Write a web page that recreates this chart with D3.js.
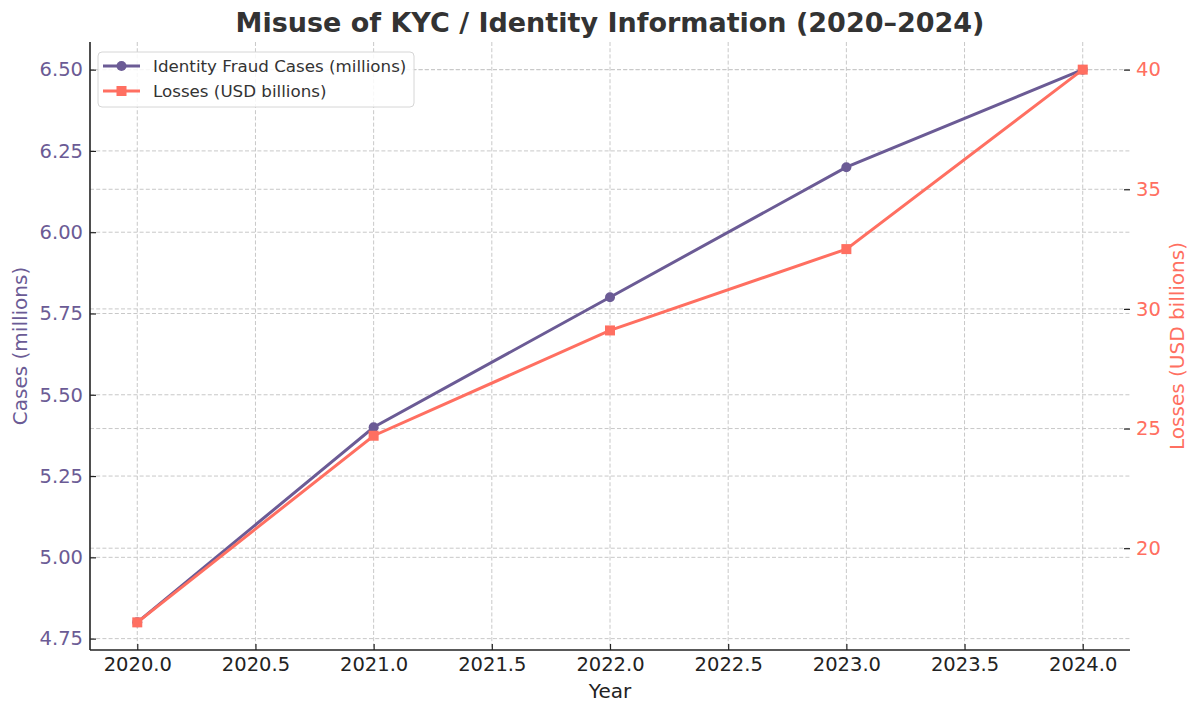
<!DOCTYPE html>
<html><head><meta charset="utf-8">
<script src="https://cdn.jsdelivr.net/npm/d3@7"></script>
<style>body{margin:0;background:#fff}svg{display:block;font-family:"DejaVu Sans",sans-serif}</style>
</head><body>
<svg id="c" width="1200" height="715"></svg>
<script>
const years = [2020, 2021, 2022, 2023, 2024];
const cases = [4.8, 5.4, 5.8, 6.2, 6.5];
const losses = [16.9, 24.7, 29.1, 32.5, 40.0];
const xTicks = [2020, 2020.5, 2021, 2021.5, 2022, 2022.5, 2023, 2023.5, 2024];
const leftTicks = [4.75, 5.00, 5.25, 5.50, 5.75, 6.00, 6.25, 6.50];
const rightTicks = [20, 25, 30, 35, 40];
const purple = "#6B5B95", coral = "#FF6F61";

const svg = d3.select("#c");
const L = 90, R = 1130, T = 42, B = 650;
const pad = (a, b) => { const r = b - a; return [a - r * 0.05, b + r * 0.05]; };
const x = d3.scaleLinear().domain(pad(2020, 2024)).range([L, R]);
const yL = d3.scaleLinear().domain(pad(d3.min(cases), d3.max(cases))).range([B, T]);
const yR = d3.scaleLinear().domain(pad(d3.min(losses), d3.max(losses))).range([B, T]);

const grid = svg.append("g").attr("stroke", "#c8c8c8").attr("stroke-width", 1).attr("stroke-dasharray", "4,2.2");
grid.selectAll(".gx").data(xTicks).join("line").attr("x1", d => x(d)).attr("x2", d => x(d)).attr("y1", T).attr("y2", B);
grid.selectAll(".gl").data(leftTicks).join("line").attr("x1", L).attr("x2", R).attr("y1", d => yL(d)).attr("y2", d => yL(d));
grid.selectAll(".gr").data(rightTicks).join("line").attr("x1", L).attr("x2", R).attr("y1", d => yR(d)).attr("y2", d => yR(d));

// axes (ticks point inward)
const fs = 19.5;
const ax = svg.append("g").attr("transform", `translate(0,${B})`)
  .call(d3.axisBottom(x).tickValues(xTicks).tickFormat(d3.format(".1f")).tickSize(-6).tickPadding(7));
ax.selectAll("text").attr("font-size", fs).attr("fill", "#222").attr("font-family", "DejaVu Sans");
const al = svg.append("g").attr("transform", `translate(${L},0)`)
  .call(d3.axisLeft(yL).tickValues(leftTicks).tickFormat(d3.format(".2f")).tickSize(-6).tickPadding(7));
al.selectAll("text").attr("font-size", fs).attr("fill", purple).attr("font-family", "DejaVu Sans");
const ar = svg.append("g").attr("transform", `translate(${R},0)`)
  .call(d3.axisRight(yR).tickValues(rightTicks).tickSize(-6).tickPadding(6));
ar.selectAll("text").attr("font-size", fs).attr("fill", coral).attr("font-family", "DejaVu Sans");
ar.select(".domain").remove();
[ax, al, ar].forEach(g => g.selectAll(".tick line").attr("stroke", "#222").attr("stroke-width", 1.2));
ax.select(".domain").attr("stroke", "#222").attr("stroke-width", 1.6).attr("d", `M${L},0H${R}`);
al.select(".domain").attr("stroke", "#222").attr("stroke-width", 1.6).attr("d", `M0,${T}V${B}`);

// lines
const lineL = d3.line().x((d, i) => x(years[i])).y(d => yL(d));
const lineR = d3.line().x((d, i) => x(years[i])).y(d => yR(d));
svg.append("path").datum(cases).attr("d", lineL).attr("fill", "none").attr("stroke", purple).attr("stroke-width", 3);
svg.selectAll(".cm").data(cases).join("circle").attr("cx", (d, i) => x(years[i])).attr("cy", d => yL(d)).attr("r", 5).attr("fill", purple);
svg.append("path").datum(losses).attr("d", lineR).attr("fill", "none").attr("stroke", coral).attr("stroke-width", 3);
svg.selectAll(".lm").data(losses).join("rect").attr("x", (d, i) => x(years[i]) - 5).attr("y", d => yR(d) - 5).attr("width", 10).attr("height", 10).attr("fill", coral);

// labels
svg.append("text").attr("x", (L + R) / 2).attr("y", 32).attr("text-anchor", "middle").attr("font-size", 27).attr("font-weight", "bold").attr("fill", "#333").text("Misuse of KYC / Identity Information (2020–2024)");
svg.append("text").attr("x", (L + R) / 2).attr("y", 698).attr("text-anchor", "middle").attr("font-size", 20).attr("fill", "#222").text("Year");
svg.append("text").attr("transform", `translate(27,${(T + B) / 2}) rotate(-90)`).attr("text-anchor", "middle").attr("font-size", 20).attr("fill", purple).text("Cases (millions)");
svg.append("text").attr("transform", `translate(1184,${(T + B) / 2}) rotate(-90)`).attr("text-anchor", "middle").attr("font-size", 20).attr("fill", coral).text("Losses (USD billions)");

// legend
const lg = svg.append("g").attr("transform", "translate(98,52)");
lg.append("rect").attr("width", 316).attr("height", 55).attr("rx", 4).attr("fill", "rgba(255,255,255,0.85)").attr("stroke", "#d6d6d6").attr("stroke-width", 1);
const items = [{ name: "Identity Fraud Cases (millions)", c: purple, m: "circle" }, { name: "Losses (USD billions)", c: coral, m: "rect" }];
items.forEach((it, i) => {
  const yy = 14 + i * 25;
  lg.append("line").attr("x1", 5).attr("x2", 42).attr("y1", yy).attr("y2", yy).attr("stroke", it.c).attr("stroke-width", 3);
  if (it.m === "circle") lg.append("circle").attr("cx", 23.5).attr("cy", yy).attr("r", 5).attr("fill", it.c);
  else lg.append("rect").attr("x", 18.5).attr("y", yy - 5).attr("width", 10).attr("height", 10).attr("fill", it.c);
  lg.append("text").attr("x", 55).attr("y", yy + 6).attr("font-size", 16.7).attr("fill", "#333").text(it.name);
});
</script>
</body></html>
